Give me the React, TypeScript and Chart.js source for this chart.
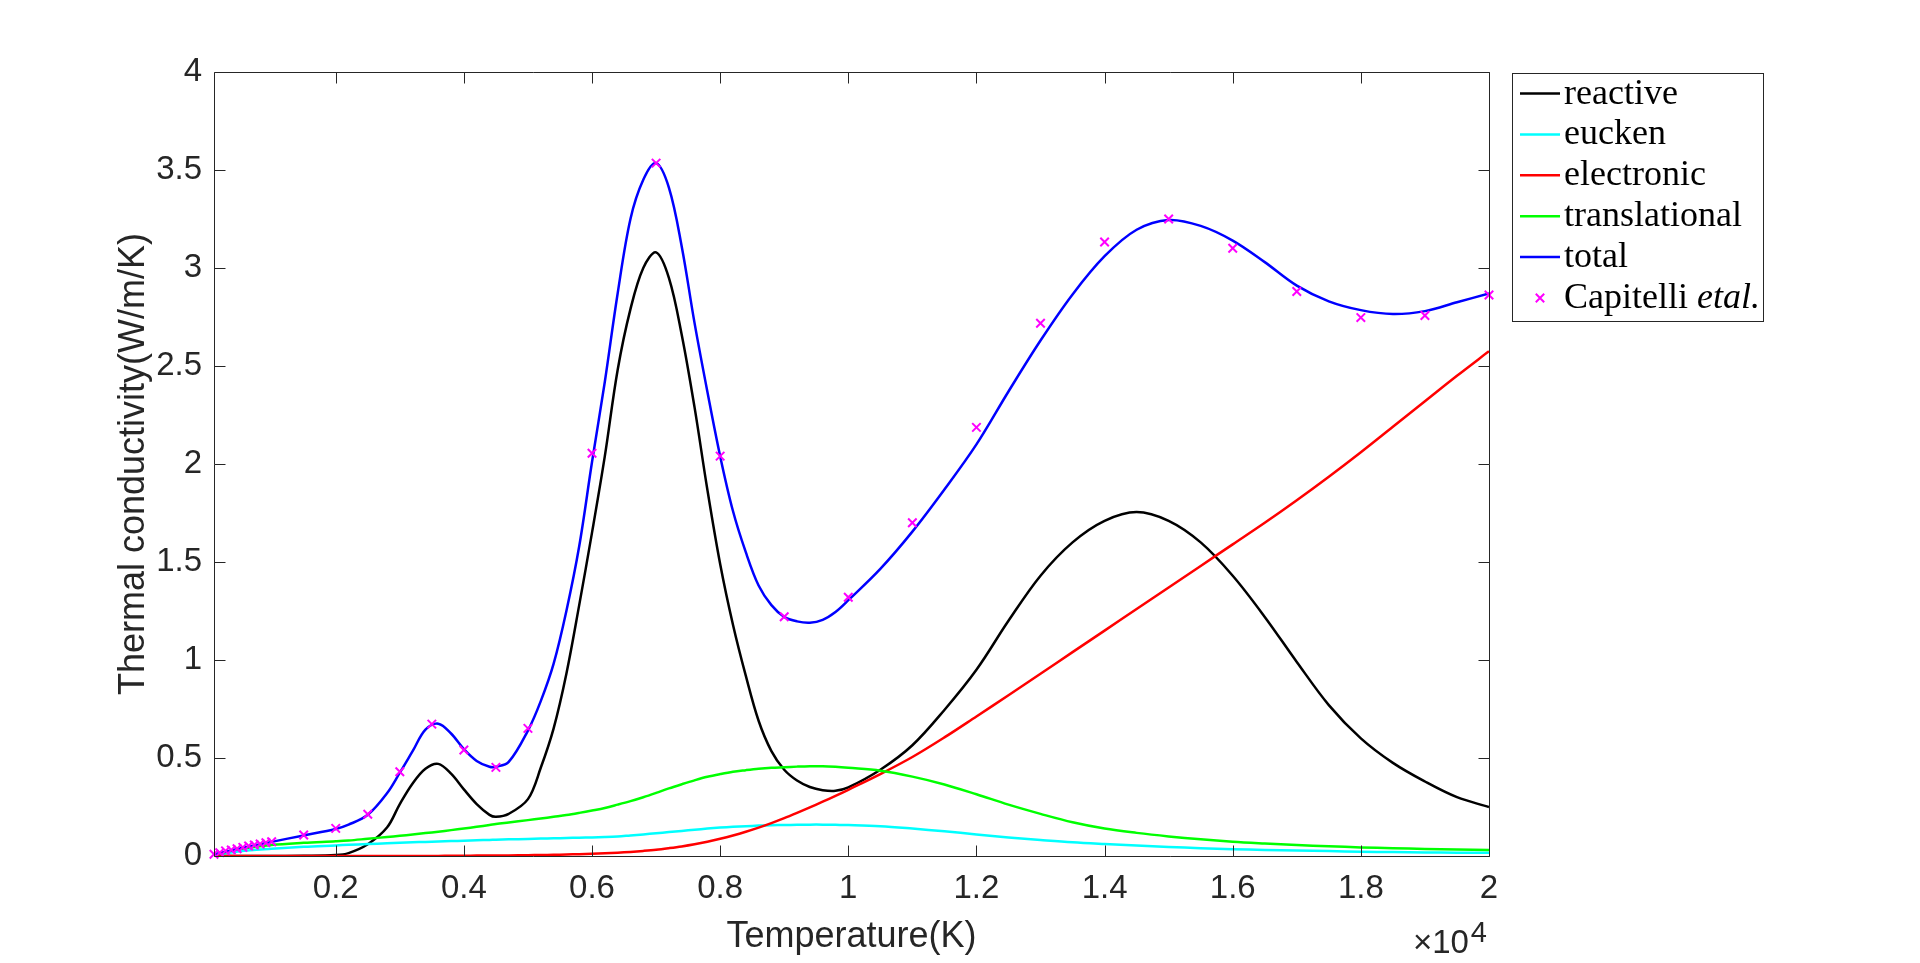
import { useEffect, useRef } from 'react';
import { Chart, registerables } from 'chart.js';

Chart.register(...registerables);

// Temperature grid (K) shared by the model curves
const temperatureK = [100, 500, 1000, 1500, 2000, 2200, 2500, 2800, 3000, 3200, 3400, 3600, 3800, 4000, 4200, 4400, 4500, 4700, 5000, 5200, 5400, 5600, 5800, 6000, 6200, 6400, 6600, 6800, 7000, 7200, 7400, 7600, 7800, 8000, 8200, 8400, 8600, 8800, 9000, 9200, 9400, 9600, 9800, 10000, 10500, 11000, 11500, 12000, 12500, 13000, 13500, 14000, 14500, 15000, 15500, 16000, 16500, 17000, 17500, 18000, 18500, 19000, 19500, 20000];

const reactive = [0, 0, 0, 0.001, 0.005, 0.015, 0.06, 0.145, 0.265, 0.37, 0.445, 0.47, 0.42, 0.34, 0.265, 0.21, 0.2, 0.215, 0.29, 0.45, 0.65, 0.93, 1.28, 1.65, 2.04, 2.48, 2.79, 3.0, 3.08, 2.95, 2.66, 2.29, 1.87, 1.49, 1.18, 0.92, 0.69, 0.535, 0.44, 0.385, 0.352, 0.336, 0.333, 0.35, 0.44, 0.565, 0.745, 0.95, 1.2, 1.43, 1.6, 1.71, 1.755, 1.71, 1.6, 1.43, 1.22, 0.99, 0.77, 0.6, 0.475, 0.38, 0.3, 0.25];

const eucken = [0.003, 0.024, 0.037, 0.047, 0.054, 0.057, 0.061, 0.065, 0.067, 0.07, 0.072, 0.074, 0.076, 0.078, 0.08, 0.082, 0.083, 0.085, 0.087, 0.089, 0.09, 0.092, 0.093, 0.095, 0.097, 0.1, 0.105, 0.11, 0.116, 0.122, 0.128, 0.134, 0.14, 0.145, 0.149, 0.152, 0.155, 0.157, 0.158, 0.159, 0.16, 0.16, 0.159, 0.158, 0.152, 0.14, 0.126, 0.11, 0.095, 0.082, 0.07, 0.061, 0.053, 0.046, 0.04, 0.035, 0.031, 0.028, 0.025, 0.022, 0.02, 0.018, 0.017, 0.016];

const electronic = [0, 0, 0, 0, 0, 0, 0, 0, 0, 0, 0, 0.0005, 0.001, 0.001, 0.002, 0.002, 0.003, 0.003, 0.004, 0.005, 0.006, 0.008, 0.009, 0.011, 0.014, 0.017, 0.021, 0.026, 0.032, 0.04, 0.049, 0.06, 0.073, 0.088, 0.105, 0.124, 0.145, 0.168, 0.193, 0.22, 0.248, 0.277, 0.307, 0.338, 0.418, 0.505, 0.605, 0.712, 0.82, 0.93, 1.04, 1.15, 1.26, 1.37, 1.48, 1.59, 1.7, 1.815, 1.935, 2.06, 2.19, 2.32, 2.45, 2.575];

const translational = [0.005, 0.035, 0.056, 0.067, 0.075, 0.079, 0.088, 0.097, 0.103, 0.11, 0.117, 0.124, 0.132, 0.14, 0.149, 0.158, 0.163, 0.171, 0.183, 0.191, 0.2, 0.209, 0.22, 0.232, 0.245, 0.262, 0.28, 0.3, 0.322, 0.345, 0.366, 0.386, 0.404, 0.418, 0.43, 0.438, 0.445, 0.45, 0.453, 0.456, 0.458, 0.458, 0.455, 0.45, 0.435, 0.405, 0.365, 0.315, 0.262, 0.215, 0.172, 0.14, 0.118, 0.1, 0.085, 0.073, 0.064, 0.056, 0.05, 0.044, 0.04, 0.036, 0.033, 0.031];

const total = [0.009, 0.038, 0.072, 0.105, 0.138, 0.16, 0.21, 0.32, 0.425, 0.535, 0.645, 0.675, 0.625, 0.545, 0.485, 0.455, 0.455, 0.48, 0.64, 0.79, 0.98, 1.25, 1.58, 2.01, 2.42, 2.87, 3.25, 3.45, 3.535, 3.41, 3.11, 2.72, 2.37, 2.04, 1.76, 1.55, 1.38, 1.28, 1.22, 1.197, 1.19, 1.205, 1.245, 1.305, 1.465, 1.655, 1.87, 2.1, 2.37, 2.63, 2.865, 3.06, 3.195, 3.245, 3.215, 3.14, 3.03, 2.91, 2.83, 2.785, 2.765, 2.78, 2.825, 2.87];

// Capitelli et al. reference points
const capitelliT = [100, 190, 280, 370, 460, 550, 640, 730, 820, 910, 1000, 1500, 2000, 2500, 3000, 3500, 4000, 4500, 5000, 6000, 7000, 8000, 9000, 10000, 11000, 12000, 13000, 14000, 15000, 16000, 17000, 18000, 19000, 20000];
const capitelliK = [0.009, 0.017, 0.026, 0.031, 0.037, 0.044, 0.051, 0.056, 0.061, 0.068, 0.073, 0.107, 0.141, 0.213, 0.43, 0.673, 0.541, 0.452, 0.651, 2.055, 3.535, 2.04, 1.221, 1.32, 1.7, 2.187, 2.718, 3.133, 3.25, 3.101, 2.88, 2.747, 2.758, 2.862];

const xTickValues = [2000, 4000, 6000, 8000, 10000, 12000, 14000, 16000, 18000, 20000];
const xMin = 100;
const xMax = 20000;
const yMin = 0;
const yMax = 4;
const yStep = 0.5;

const seriesLabels = ['reactive', 'eucken', 'electronic', 'translational', 'total'];
const seriesColors = ['#000000', '#00ffff', '#ff0000', '#00ff00', '#0000ff'];
const markerLabelUpright = 'Capitelli ';
const markerLabelItalic = 'etal.';
const markerColor = '#ff00ff';
const xTitle = 'Temperature(K)';
const yTitle = 'Thermal conductivity(W/m/K)';
const exponentBase = '\u00d710';
const exponentPower = '4';

const AXIS_COLOR = '#262626';
const SANS = '"Liberation Sans", Arial, Helvetica, sans-serif';
const SERIF = '"Liberation Serif", "Times New Roman", serif';

const matlabAxesPlugin = {
  id: 'matlabAxes',
  afterDatasetsDraw(chart: any) {
    const { ctx, chartArea: a, scales } = chart;
    const L = Math.round(a.left) + 0.5;
    const R = Math.round(a.right) + 0.5;
    const T = Math.round(a.top) + 0.5;
    const B = Math.round(a.bottom) + 0.5;
    const tl = 11;
    ctx.save();
    ctx.strokeStyle = AXIS_COLOR;
    ctx.lineWidth = 1;
    ctx.beginPath();
    ctx.moveTo(L, T);
    ctx.lineTo(R, T);
    ctx.lineTo(R, B);
    ctx.lineTo(L, B);
    ctx.closePath();
    scales.x.ticks.forEach((t: any) => {
      const px = Math.round(scales.x.getPixelForValue(t.value)) + 0.5;
      ctx.moveTo(px, B);
      ctx.lineTo(px, B - tl);
      ctx.moveTo(px, T);
      ctx.lineTo(px, T + tl);
    });
    scales.y.ticks.forEach((t: any) => {
      const py = Math.round(scales.y.getPixelForValue(t.value)) + 0.5;
      ctx.moveTo(L, py);
      ctx.lineTo(L + tl, py);
      ctx.moveTo(R, py);
      ctx.lineTo(R - tl, py);
    });
    ctx.stroke();
    ctx.restore();
  },
  afterDraw(chart: any) {
    const { ctx, chartArea: a } = chart;
    ctx.save();
    // exponent label
    ctx.fillStyle = AXIS_COLOR;
    ctx.textBaseline = 'alphabetic';
    ctx.textAlign = 'left';
    ctx.font = `29px ${SANS}`;
    const pw = ctx.measureText(exponentPower).width;
    const px = a.right - 2 - pw;
    ctx.fillText(exponentPower, px, 942);
    ctx.font = `33px ${SANS}`;
    const bw = ctx.measureText(exponentBase).width;
    ctx.fillText(exponentBase, px - 2 - bw, 953);

    // legend
    const lx = 1512;
    const ly = 73;
    const lw = 251;
    const lh = 248;
    ctx.fillStyle = '#ffffff';
    ctx.fillRect(lx, ly, lw, lh);
    ctx.strokeStyle = AXIS_COLOR;
    ctx.lineWidth = 1;
    ctx.strokeRect(lx + 0.5, ly + 0.5, lw, lh);
    const rowY0 = 93.5;
    const rowStep = 40.9;
    const textX = 1564;
    ctx.font = `36px ${SERIF}`;
    seriesLabels.forEach((label, i) => {
      const y = rowY0 + i * rowStep;
      ctx.strokeStyle = seriesColors[i];
      ctx.lineWidth = 2.5;
      ctx.beginPath();
      ctx.moveTo(1520, y);
      ctx.lineTo(1560, y);
      ctx.stroke();
      ctx.fillStyle = '#000000';
      ctx.fillText(label, textX, y + 10);
    });
    const my = rowY0 + 5 * rowStep;
    const mx = 1540;
    const r = 4.2;
    ctx.strokeStyle = markerColor;
    ctx.lineWidth = 2;
    ctx.beginPath();
    ctx.moveTo(mx - r, my - r);
    ctx.lineTo(mx + r, my + r);
    ctx.moveTo(mx - r, my + r);
    ctx.lineTo(mx + r, my - r);
    ctx.stroke();
    ctx.fillStyle = '#000000';
    ctx.font = `36px ${SERIF}`;
    ctx.fillText(markerLabelUpright, textX, my + 10);
    const uw = ctx.measureText(markerLabelUpright).width;
    ctx.font = `italic 36px ${SERIF}`;
    ctx.fillText(markerLabelItalic, textX + uw, my + 10);
    ctx.restore();
  },
};

export default function App() {
  const ref = useRef<HTMLCanvasElement>(null);

  useEffect(() => {
    document.body.style.margin = '0';
    document.body.style.overflow = 'hidden';
    const canvas = ref.current;
    if (!canvas) return;
    const lineSeries = [reactive, eucken, electronic, translational, total];
    const datasets: any[] = lineSeries.map((vals, i) => ({
      label: seriesLabels[i],
      data: temperatureK.map((t, j) => ({ x: t, y: vals[j] })),
      borderColor: seriesColors[i],
      backgroundColor: seriesColors[i],
      borderWidth: 2.5,
      showLine: true,
      pointRadius: 0,
      pointHoverRadius: 0,
      tension: 0.35,
      fill: false,
      order: 5 - i,
    }));
    datasets.push({
      label: markerLabelUpright + markerLabelItalic,
      data: capitelliT.map((t, j) => ({ x: t, y: capitelliK[j] })),
      showLine: false,
      pointStyle: 'crossRot',
      pointRadius: 6,
      pointBorderWidth: 2,
      borderColor: markerColor,
      backgroundColor: markerColor,
      order: 0,
      clip: false,
    });

    const chart = new Chart(canvas, {
      type: 'scatter',
      data: { datasets },
      options: {
        responsive: false,
        animation: false,
        events: [],
        layout: { padding: { left: 0, top: 72, right: 431, bottom: 0 } },
        plugins: {
          legend: { display: false },
          tooltip: { enabled: false },
        },
        scales: {
          x: {
            type: 'linear',
            min: xMin,
            max: xMax,
            afterBuildTicks: (s: any) => {
              s.ticks = xTickValues.map((v) => ({ value: v }));
            },
            afterFit: (s: any) => {
              s.height = 107;
            },
            grid: { display: false, drawTicks: false },
            border: { display: false },
            ticks: {
              autoSkip: false,
              maxRotation: 0,
              minRotation: 0,
              padding: 13,
              color: AXIS_COLOR,
              font: { family: SANS, size: 33 },
              callback: (v: any) => String(Number(v) / 10000),
            },
            title: {
              display: true,
              text: xTitle,
              color: AXIS_COLOR,
              font: { family: SANS, size: 36 },
              padding: { top: 0, bottom: 4 },
            },
          },
          y: {
            type: 'linear',
            min: yMin,
            max: yMax,
            afterFit: (s: any) => {
              s.width = 214;
            },
            grid: { display: false, drawTicks: false },
            border: { display: false },
            ticks: {
              stepSize: yStep,
              padding: 12,
              color: AXIS_COLOR,
              font: { family: SANS, size: 33 },
              callback: (v: any) => String(v),
            },
            title: {
              display: true,
              text: yTitle,
              color: AXIS_COLOR,
              font: { family: SANS, size: 36 },
              padding: { top: 112, bottom: 0 },
            },
          },
        },
      } as any,
      plugins: [matlabAxesPlugin],
    });
    return () => chart.destroy();
  }, []);

  return (
    <div style={{ position: 'absolute', left: 0, top: 0, width: 1920, height: 963, background: '#ffffff' }}>
      <canvas ref={ref} width={1920} height={963} style={{ display: 'block' }} />
    </div>
  );
}
